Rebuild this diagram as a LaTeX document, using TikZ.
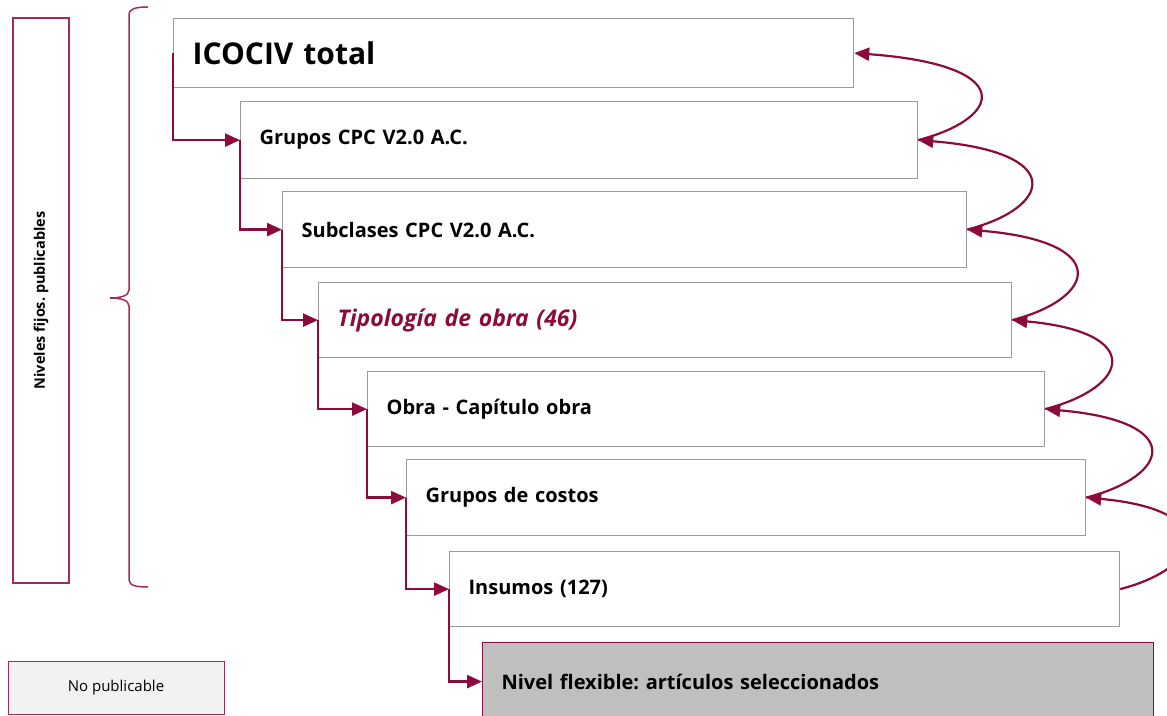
\documentclass[tikz,border=0pt]{standalone}
\usepackage{fontspec}
\setmainfont{Open Sans}
\usetikzlibrary{arrows.meta, calc}
\definecolor{granate}{RGB}{140,10,60}
\definecolor{rosado}{RGB}{165,40,95}
\definecolor{borde}{RGB}{155,155,155}
\definecolor{grisclaro}{RGB}{242,242,242}
\definecolor{grisflex}{RGB}{191,191,191}
\frenchspacing

\begin{document}
\begin{tikzpicture}[x=1pt, y=1pt,
    nivel/.style={draw=borde, line width=1.2pt, anchor=north west, inner xsep=19pt,
        align=left, font=\bfseries\fontsize{20}{24}\selectfont},
    baja/.style={draw=granate, line width=2.4pt, -{Triangle[length=15pt, width=13pt]}},
    sube/.style={draw=granate, line width=2.2pt, -{Triangle[length=15pt, width=13pt]}}]
    \useasboundingbox (0,0) rectangle (1167,715);
    %
    \node [nivel, text width=642pt, minimum height=69pt, font=\bfseries\fontsize{30}{34}\selectfont] (b1) at (173,697) {ICOCIV total};
    \node [nivel, text width=639pt, minimum height=77pt] (b2) at (240,614) {Grupos CPC V2.0 A.C.};
    \node [nivel, text width=646pt, minimum height=76pt] (b3) at (282,524) {Subclases CPC V2.0 A.C.};
    \node [nivel, text width=655pt, minimum height=75pt, text=granate, font=\bfseries\itshape\fontsize{23}{27}\selectfont] (b4) at (318,433) {Tipología de obra (46)};
    \node [nivel, text width=639pt, minimum height=75pt] (b5) at (367,344) {Obra - Capítulo obra};
    \node [nivel, text width=641pt, minimum height=76pt] (b6) at (406,256) {Grupos de costos};
    \node [nivel, text width=632pt, minimum height=75pt] (b7) at (449,164) {Insumos (127)};
    \node [nivel, text width=633pt, minimum height=78pt, draw=granate, fill=grisflex] (b8) at (482,73) {Nivel flexible: artículos seleccionados};
    %
    \node [draw=rosado, line width=1.2pt, rotate=90, minimum width=565pt, minimum height=56pt,
        font=\bfseries\fontsize{14.5}{17}\selectfont] (fijos) at (41,414.5) {Niveles fijos. publicables};
    \node [draw=rosado, fill=grisclaro, line width=1pt, minimum width=216pt, minimum height=53pt,
        font=\fontsize{15}{18}\selectfont] (nopub) at (116,27.5) {No publicable};
    %
    % llave de los niveles fijos
    \draw [rosado, line width=1.5pt] (148,708) .. controls (138,708) and (129,707) .. (129,700)
        -- (129,425) .. controls (129,419) and (120,417) .. (110,417)
        .. controls (120,417) and (129,415) .. (129,409)
        -- (129,135) .. controls (129,129) and (138,128) .. (148,128);
    %
    \foreach \a/\b in {b1/b2, b2/b3, b3/b4, b4/b5, b5/b6, b6/b7, b7/b8}
        \draw [baja] (\a.west) |- (\b.west);
    \foreach \a/\b in {b2/b1, b3/b2, b4/b3, b5/b4, b6/b5, b7/b6}
        \draw [sube] (\a.east) .. controls ($(\a.east)+(85,22)$) and ($(\a.east |- \b.east)+(100,-12)$) .. (\b.east);
\end{tikzpicture}
\end{document}
